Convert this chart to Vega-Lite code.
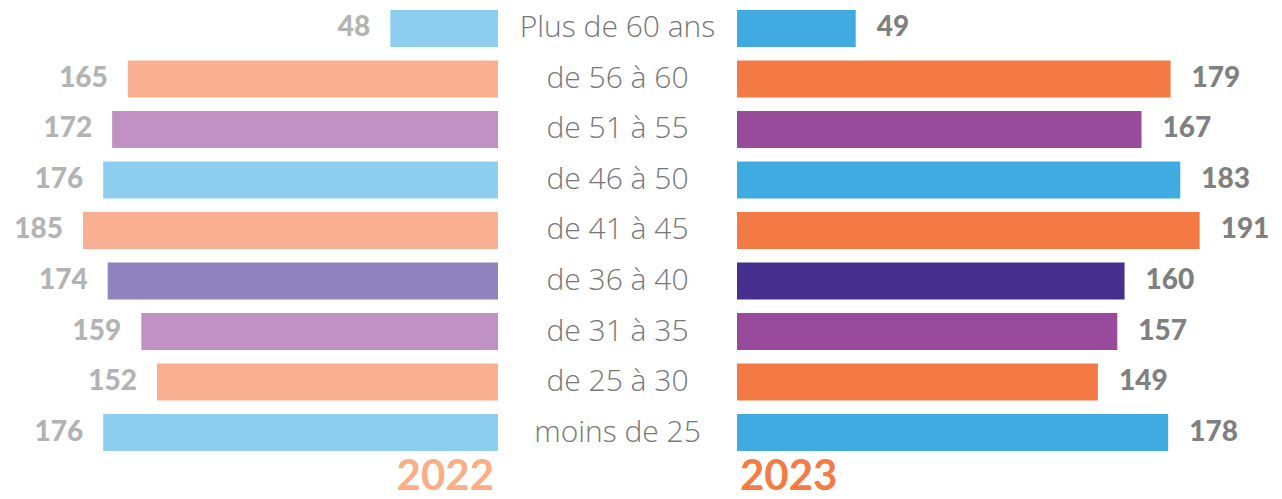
{
  "$schema": "https://vega.github.io/schema/vega-lite/v6.json",
  "padding": 0,
  "spacing": 0,
  "config": {"view": {"stroke": null}, "concat": {"spacing": 0}},
  "data": {"values": [
    {"age": "Plus de 60 ans", "v2022": 48, "v2023": 49, "grp": "a"},
    {"age": "de 56 à 60", "v2022": 165, "v2023": 179, "grp": "b"},
    {"age": "de 51 à 55", "v2022": 172, "v2023": 167, "grp": "c"},
    {"age": "de 46 à 50", "v2022": 176, "v2023": 183, "grp": "a"},
    {"age": "de 41 à 45", "v2022": 185, "v2023": 191, "grp": "b"},
    {"age": "de 36 à 40", "v2022": 174, "v2023": 160, "grp": "d"},
    {"age": "de 31 à 35", "v2022": 159, "v2023": 157, "grp": "c"},
    {"age": "de 25 à 30", "v2022": 152, "v2023": 149, "grp": "b"},
    {"age": "moins de 25", "v2022": 176, "v2023": 178, "grp": "a"}
  ]},
  "hconcat": [
    {
      "width": 498,
      "height": 457,
      "title": {"text": "2022", "orient": "bottom", "anchor": "end", "font": "Lato", "fontSize": 42, "fontWeight": "bold", "color": "#F9AE86", "offset": 0, "dx": -4},
      "encoding": {
        "y": {"field": "age", "type": "nominal", "sort": null, "axis": null, "scale": {"paddingInner": 0.267, "paddingOuter": 0.158, "align": 0.625}},
        "x": {"field": "v2022", "type": "quantitative", "axis": null, "scale": {"domain": [0, 222], "reverse": true, "nice": false}}
      },
      "layer": [
        {
          "mark": {"type": "bar"},
          "encoding": {
            "color": {"field": "grp", "type": "nominal", "legend": null, "scale": {"domain": ["a", "b", "c", "d"], "range": ["#8DCDEE", "#F9AF91", "#C291C3", "#9082BD"]}}
          }
        },
        {
          "mark": {"type": "text", "align": "right", "baseline": "middle", "dx": -20, "font": "Lato", "fontSize": 28, "fontWeight": 900, "color": "#B3B3B3"},
          "encoding": {"text": {"field": "v2022", "type": "quantitative"}}
        }
      ]
    },
    {
      "width": 239,
      "height": 457,
      "mark": {"type": "text", "align": "center", "baseline": "middle", "font": "Open Sans", "fontSize": 30, "fontWeight": 300, "color": "#777777"},
      "encoding": {
        "y": {"field": "age", "type": "nominal", "sort": null, "axis": null, "scale": {"paddingInner": 0.267, "paddingOuter": 0.158, "align": 0.625}},
        "text": {"field": "age", "type": "nominal"}
      }
    },
    {
      "width": 545,
      "height": 457,
      "title": {"text": "2023", "orient": "bottom", "anchor": "start", "font": "Lato", "fontSize": 42, "fontWeight": "bold", "color": "#F47B44", "offset": 0, "dx": 3},
      "encoding": {
        "y": {"field": "age", "type": "nominal", "sort": null, "axis": null, "scale": {"paddingInner": 0.267, "paddingOuter": 0.158, "align": 0.625}},
        "x": {"field": "v2023", "type": "quantitative", "axis": null, "scale": {"domain": [0, 225], "nice": false}}
      },
      "layer": [
        {
          "mark": {"type": "bar"},
          "encoding": {
            "color": {"field": "grp", "type": "nominal", "legend": null, "scale": {"domain": ["a", "b", "c", "d"], "range": ["#40ABE1", "#F47A45", "#984A9B", "#472F90"]}}
          }
        },
        {
          "mark": {"type": "text", "align": "left", "baseline": "middle", "dx": 21, "font": "Lato", "fontSize": 28, "fontWeight": 900, "color": "#7F8080"},
          "encoding": {"text": {"field": "v2023", "type": "quantitative"}}
        }
      ]
    }
  ],
  "resolve": {"scale": {"x": "independent", "color": "independent", "y": "shared"}}
}
